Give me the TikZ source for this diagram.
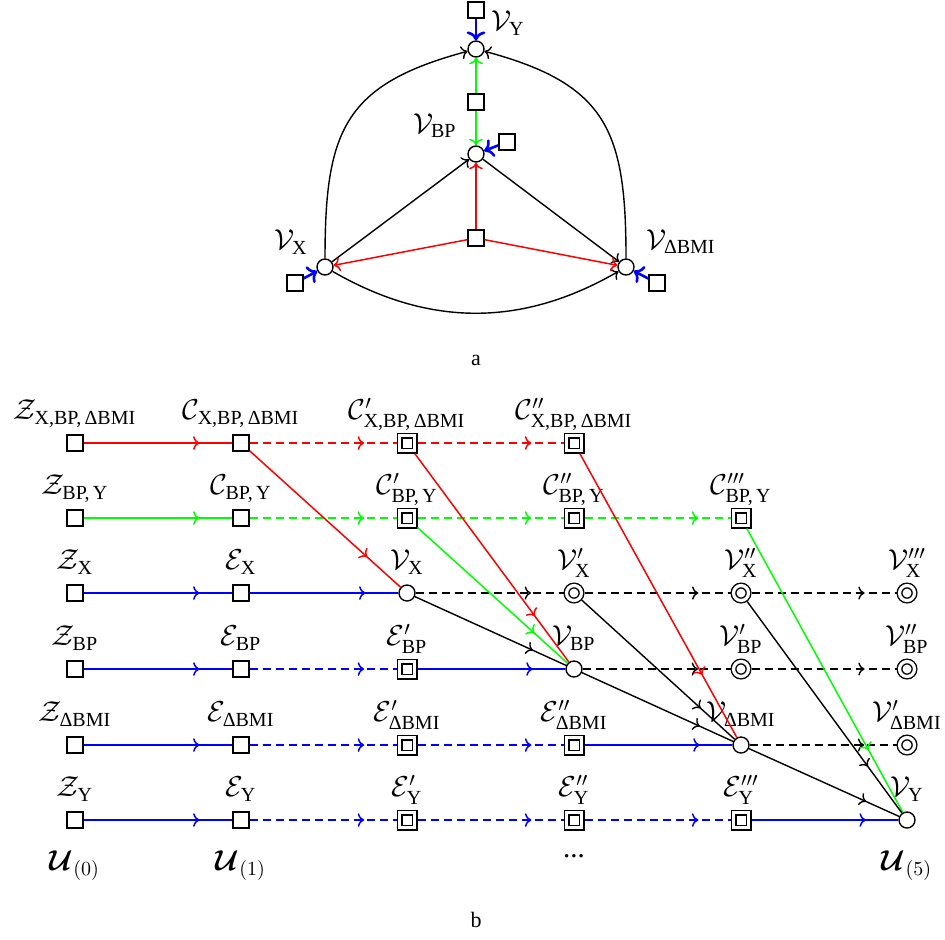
\documentclass[tikz,border=0pt]{standalone}
\usepackage{amsmath}
\usepackage{fontspec}
\setmainfont{Liberation Serif}
\usetikzlibrary{arrows.meta,decorations.markings}
\newcommand{\XBD}{\text{X,BP,\,ΔBMI}}
\newcommand{\BPY}{\text{BP,\,Y}}

\begin{document}
\begin{tikzpicture}[x=0.5pt, y=0.5pt, font=\fontsize{14.4}{17}\selectfont,
  sq/.style={draw, line width=0.7pt, rectangle, minimum size=8pt, inner sep=0pt, fill=white},
  dsq/.style={sq, minimum size=7.5pt, double, double distance=1.6pt, outer sep=1.5pt},
  vtx/.style={draw, line width=0.7pt, circle, minimum size=8pt, inner sep=0pt, fill=white},
  dvtx/.style={vtx, minimum size=7.5pt, double, double distance=1.6pt, outer sep=1.5pt},
  lb/.style={anchor=base, yshift=7.2pt},
  dlb/.style={anchor=base, yshift=6.3pt},
  rd/.style={draw=red, line width=0.75pt},
  gn/.style={draw=green, line width=0.75pt},
  bu/.style={draw=blue, line width=0.75pt},
  bk/.style={draw=black, line width=0.7pt},
  dsh/.style={dash pattern=on 4pt off 2.5pt},
  mid/.style={postaction={decorate},
    decoration={markings, mark=at position 0.78 with {\arrow{>}}}},
  capt/.style={font=\fontsize{11}{13}\selectfont}]
\useasboundingbox (0,0) rectangle (945,-939);

% (a) dependency graph
\node[vtx] (aVy) at (476,-49) {};
\node[sq] (aSy) at (476,-10) {};
\node[sq] (aSm) at (476,-102) {};
\node[vtx] (aVbp) at (476,-154) {};
\node[sq] (aSbp) at (507,-142) {};
\node[sq] (aSc) at (476,-238) {};
\node[vtx] (aVx) at (325,-267) {};
\node[sq] (aSx) at (295,-283) {};
\node[vtx] (aVd) at (626,-267) {};
\node[sq] (aSd) at (657,-283) {};
\node (aLy) at (508,-23) {$\mathcal{V}_{\text{Y}}$};
\node (aLbp) at (435,-126) {$\mathcal{V}_{\text{BP}}$};
\node (aLx) at (291,-242) {$\mathcal{V}_{\text{X}}$};
\node (aLd) at (681,-242) {$\mathcal{V}_{\text{ΔBMI}}$};

\draw[bk,->] (aVx) -- (aVbp);
\draw[bk,->] (aVbp) -- (aVd);
\draw[bk,->] (aVx) to[out=90, in=195, looseness=1.3] (aVy);
\draw[bk,->] (aVd) to[out=90, in=-15, looseness=1.3] (aVy);
\draw[bk,->] (aVx) to[out=-30, in=-150] (aVd);
\draw[rd,->] (aSc) -- (aVbp);
\draw[rd,->] (aSc) -- (aVx);
\draw[rd,->] (aSc) -- (aVd);
\draw[gn,->] (aSm) -- (aVy);
\draw[gn,->] (aSm) -- (aVbp);
\draw[bu,line width=1.3pt,->] (aSy) -- (aVy);
\draw[bu,line width=1.3pt,->] (aSbp) -- (aVbp);
\draw[bu,line width=1.3pt,->] (aSx) -- (aVx);
\draw[bu,line width=1.3pt,->] (aSd) -- (aVd);
\node[capt] (capa) at (476,-360) {a};

% (b) unrolled graph
\node[sq, label={[lb]above:$\mathcal{Z}_{\XBD}$}] (zxbd) at (75,-443) {};
\node[sq, label={[lb]above:$\mathcal{C}_{\XBD}$}] (cxbd) at (241,-443) {};
\node[dsq, label={[dlb]above:$\mathcal{C}'_{\XBD}$}] (cxbd1) at (407,-443) {};
\node[dsq, label={[dlb]above:$\mathcal{C}''_{\XBD}$}] (cxbd2) at (574,-443) {};

\node[sq, label={[lb]above:$\mathcal{Z}_{\BPY}$}] (zby) at (75,-518) {};
\node[sq, label={[lb]above:$\mathcal{C}_{\BPY}$}] (cby) at (241,-518) {};
\node[dsq, label={[dlb]above:$\mathcal{C}'_{\BPY}$}] (cby1) at (407,-518) {};
\node[dsq, label={[dlb]above:$\mathcal{C}''_{\BPY}$}] (cby2) at (574,-518) {};
\node[dsq, label={[dlb]above:$\mathcal{C}'''_{\BPY}$}] (cby3) at (741,-518) {};

\node[sq, label={[lb]above:$\mathcal{Z}_{\text{X}}$}] (zx) at (75,-593) {};
\node[sq, label={[lb]above:$\mathcal{E}_{\text{X}}$}] (ex) at (241,-593) {};
\node[vtx, label={[lb]above:$\mathcal{V}_{\text{X}}$}] (vx) at (407,-593) {};
\node[dvtx, label={[dlb]above:$\mathcal{V}'_{\text{X}}$}] (vx1) at (574,-593) {};
\node[dvtx, label={[dlb]above:$\mathcal{V}''_{\text{X}}$}] (vx2) at (741,-593) {};
\node[dvtx, label={[dlb]above:$\mathcal{V}'''_{\text{X}}$}] (vx3) at (907,-593) {};

\node[sq, label={[lb]above:$\mathcal{Z}_{\text{BP}}$}] (zbp) at (75,-669) {};
\node[sq, label={[lb]above:$\mathcal{E}_{\text{BP}}$}] (ebp) at (241,-669) {};
\node[dsq, label={[dlb]above:$\mathcal{E}'_{\text{BP}}$}] (ebp1) at (407,-669) {};
\node[vtx, label={[lb]above:$\mathcal{V}_{\text{BP}}$}] (vbp) at (574,-669) {};
\node[dvtx, label={[dlb]above:$\mathcal{V}'_{\text{BP}}$}] (vbp1) at (741,-669) {};
\node[dvtx, label={[dlb]above:$\mathcal{V}''_{\text{BP}}$}] (vbp2) at (907,-669) {};

\node[sq, label={[lb]above:$\mathcal{Z}_{\text{ΔBMI}}$}] (zd) at (75,-745) {};
\node[sq, label={[lb]above:$\mathcal{E}_{\text{ΔBMI}}$}] (ed) at (241,-745) {};
\node[dsq, label={[dlb]above:$\mathcal{E}'_{\text{ΔBMI}}$}] (ed1) at (407,-745) {};
\node[dsq, label={[dlb]above:$\mathcal{E}''_{\text{ΔBMI}}$}] (ed2) at (574,-745) {};
\node[vtx, label={[lb]above:$\mathcal{V}_{\text{ΔBMI}}$}] (vd) at (741,-745) {};
\node[dvtx, label={[dlb]above:$\mathcal{V}'_{\text{ΔBMI}}$}] (vd1) at (907,-745) {};

\node[sq, label={[lb]above:$\mathcal{Z}_{\text{Y}}$}] (zy) at (75,-820) {};
\node[sq, label={[lb]above:$\mathcal{E}_{\text{Y}}$}] (ey) at (241,-820) {};
\node[dsq, label={[dlb]above:$\mathcal{E}'_{\text{Y}}$}] (ey1) at (407,-820) {};
\node[dsq, label={[dlb]above:$\mathcal{E}''_{\text{Y}}$}] (ey2) at (574,-820) {};
\node[dsq, label={[dlb]above:$\mathcal{E}'''_{\text{Y}}$}] (ey3) at (741,-820) {};
\node[vtx, label={[lb]above:$\mathcal{V}_{\text{Y}}$}] (vy) at (907,-820) {};

\node[anchor=base] (u0) at (75,-870) {$\boldsymbol{\mathcal{U}}_{(0)}$};
\node[anchor=base] (u1) at (241,-870) {$\boldsymbol{\mathcal{U}}_{(1)}$};
\node[anchor=base] (udots) at (574,-857) {...};
\node[anchor=base] (u5) at (907,-870) {$\boldsymbol{\mathcal{U}}_{(5)}$};

% rows
\draw[rd,mid] (zxbd) -- (cxbd);
\draw[rd,mid,dsh] (cxbd) -- (cxbd1);
\draw[rd,mid,dsh] (cxbd1) -- (cxbd2);
\draw[gn,mid] (zby) -- (cby);
\draw[gn,mid,dsh] (cby) -- (cby1);
\draw[gn,mid,dsh] (cby1) -- (cby2);
\draw[gn,mid,dsh] (cby2) -- (cby3);
\draw[bu,mid] (zx) -- (ex);
\draw[bu,mid] (ex) -- (vx);
\draw[bk,mid,dsh] (vx) -- (vx1);
\draw[bk,mid,dsh] (vx1) -- (vx2);
\draw[bk,mid,dsh] (vx2) -- (vx3);
\draw[bu,mid] (zbp) -- (ebp);
\draw[bu,mid,dsh] (ebp) -- (ebp1);
\draw[bu,mid] (ebp1) -- (vbp);
\draw[bk,mid,dsh] (vbp) -- (vbp1);
\draw[bk,mid,dsh] (vbp1) -- (vbp2);
\draw[bu,mid] (zd) -- (ed);
\draw[bu,mid,dsh] (ed) -- (ed1);
\draw[bu,mid,dsh] (ed1) -- (ed2);
\draw[bu,mid] (ed2) -- (vd);
\draw[bk,mid,dsh] (vd) -- (vd1);
\draw[bu,mid] (zy) -- (ey);
\draw[bu,mid,dsh] (ey) -- (ey1);
\draw[bu,mid,dsh] (ey1) -- (ey2);
\draw[bu,mid,dsh] (ey2) -- (ey3);
\draw[bu,mid] (ey3) -- (vy);

% diagonals
\draw[rd,mid] (cxbd) -- (vx);
\draw[rd,mid] (cxbd1) -- (vbp);
\draw[rd,mid] (cxbd2) -- (vd);
\draw[gn,mid] (cby1) -- (vbp);
\draw[gn,mid] (cby3) -- (vy);
\draw[bk,mid] (vx) -- (vbp);
\draw[bk,mid] (vx1) -- (vd);
\draw[bk,mid] (vbp) -- (vd);
\draw[bk,mid] (vx2) -- (vy);
\draw[bk,mid] (vd) -- (vy);
\node[capt] (capb) at (476,-920) {b};
\end{tikzpicture}
\end{document}
